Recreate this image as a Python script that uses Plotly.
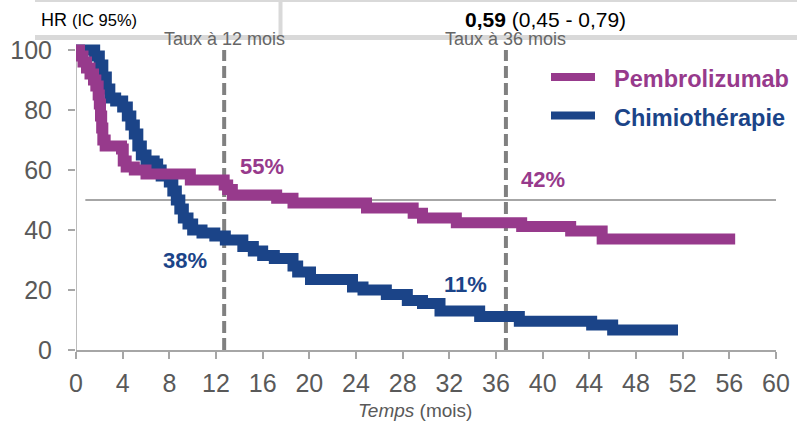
import plotly.graph_objects as go

# Kaplan-Meier step curves (months, % surviving)
pembro_months = [0, 0.3, 0.6, 0.9, 1.2, 1.5, 1.7, 1.9, 2.0, 2.1, 2.2, 2.3, 2.5, 3.9, 4.05,
                 4.3, 5.0, 6.0, 9.8, 12.7, 13.0, 13.4, 17.2, 18.6, 24.9, 28.9, 29.7, 32.6,
                 38.2, 42.4, 45.1, 56.5]
pembro_surv = [100, 98, 96, 94, 92, 90, 88, 85, 82, 78, 74, 70, 68, 67, 63,
               61, 60, 58.7, 56.7, 55, 53.5, 51.7, 50.6, 49.0, 47.3, 45.6, 44.0, 42.4,
               41.2, 39.7, 37.0, 37.0]

chemo_months = [0, 1.6, 2.0, 2.3, 2.6, 2.9, 3.4, 4.0, 4.4, 4.7, 5.0, 5.3, 5.6, 6.0, 6.7,
                7.0, 7.3, 8.0, 8.3, 8.6, 8.9, 9.2, 9.6, 10.0, 10.8, 11.9, 12.8, 14.3,
                15.2, 16.0, 17.0, 18.6, 19.0, 20.1, 23.7, 24.6, 26.6, 28.4, 29.7, 31.2,
                34.6, 38.0, 44.2, 46.0, 51.6]
chemo_surv = [100, 98, 95, 91, 87, 84, 83, 81, 78, 75, 72, 68, 65, 63, 62,
              60, 58, 56, 53, 50, 47, 44, 42, 40, 39, 38, 36.7, 34.5,
              33, 31.5, 30.5, 28, 26, 23.5, 21, 20, 18.5, 16.5, 15.5, 13,
              11.2, 9.6, 8.3, 6.7, 6.7]

series_names = ["Pembrolizumab", "Chimiothérapie"]
series_colors = ["#973A8C", "#1B4488"]

month_ticks = list(range(0, 61, 4))
surv_ticks = [0, 20, 40, 60, 80, 100]

landmark_months = [12.7, 36.85]
landmark_titles = ["Taux à 12 mois", "Taux à 36 mois"]

# landmark rate labels: text, month, height, series index
rate_text = ["55%", "38%", "42%", "11%"]
rate_x = [15.9, 9.3, 40.0, 33.4]
rate_y = [61.3, 29.7, 56.7, 22.0]
rate_series = [0, 1, 0, 1]

median_line = 50

FONT = "Liberation Sans, Arial, sans-serif"
GRAY_TXT = "#595959"
AXIS_GRAY = "#a6a6a6"
HEADER_GRAY = "#d9d9d9"

W, H = 797, 422
ML, MR, MT, MB = 76, 21, 38, 72
PW, PH = W - ML - MR, H - MT - MB


def pxx(p):
    return (p - ML) / PW


def pxy(p):
    return (H - MB - p) / PH


fig = go.Figure()

fig.add_trace(go.Scatter(x=chemo_months, y=chemo_surv, mode="lines", line_shape="hv",
                         line=dict(color=series_colors[1], width=11), name=series_names[1],
                         showlegend=False, hoverinfo="skip"))
fig.add_trace(go.Scatter(x=pembro_months, y=pembro_surv, mode="lines", line_shape="hv",
                         line=dict(color=series_colors[0], width=11), name=series_names[0],
                         showlegend=False, hoverinfo="skip"))

shapes = []
# left axis line, only up to 100
shapes.append(dict(type="line", xref="x", yref="y", x0=0, x1=0, y0=0, y1=100,
                   line=dict(color=AXIS_GRAY, width=1.5), layer="below"))
# median reference line
shapes.append(dict(type="line", xref="x", yref="y", x0=0.8, x1=60.2, y0=median_line,
                   y1=median_line, line=dict(color=AXIS_GRAY, width=2), layer="below"))
# landmark dashed lines
for m in landmark_months:
    shapes.append(dict(type="line", xref="x", yref="y", x0=m, x1=m, y0=0, y1=100,
                       line=dict(color="#808080", width=4, dash="12px,5px"), layer="below"))
# header table rules
shapes.append(dict(type="line", xref="paper", yref="paper", x0=pxx(35), x1=pxx(800),
                   y0=pxy(1), y1=pxy(1), line=dict(color=HEADER_GRAY, width=2)))
shapes.append(dict(type="line", xref="paper", yref="paper", x0=pxx(280.5), x1=pxx(280.5),
                   y0=pxy(0), y1=pxy(36), line=dict(color=HEADER_GRAY, width=4)))
shapes.append(dict(type="line", xref="paper", yref="paper", x0=pxx(35), x1=pxx(800),
                   y0=pxy(37.5), y1=pxy(37.5), line=dict(color=HEADER_GRAY, width=5)))
# legend swatches
for i, yy in enumerate([77, 115.5]):
    shapes.append(dict(type="line", xref="paper", yref="paper", x0=pxx(551), x1=pxx(595),
                       y0=pxy(yy), y1=pxy(yy), line=dict(color=series_colors[i], width=8)))

annotations = []
for i, yy in enumerate([78.5, 118]):
    annotations.append(dict(xref="paper", yref="paper", x=pxx(612), y=pxy(yy),
                            text=f"<b>{series_names[i]}</b>", showarrow=False,
                            xanchor="left", yanchor="middle",
                            font=dict(family=FONT, size=23.5, color=series_colors[i])))
for t, x, y, s in zip(rate_text, rate_x, rate_y, rate_series):
    annotations.append(dict(xref="x", yref="y", x=x, y=y, text=f"<b>{t}</b>",
                            showarrow=False, xanchor="center", yanchor="middle",
                            font=dict(family=FONT, size=22, color=series_colors[s])))
for m, t in zip(landmark_months, landmark_titles):
    annotations.append(dict(xref="x", yref="paper", x=m, y=pxy(38.5), text=t,
                            showarrow=False, xanchor="center", yanchor="middle",
                            font=dict(family=FONT, size=18, color="#666666")))
annotations.append(dict(xref="paper", yref="paper", x=pxx(39), y=pxy(20),
                        text="HR <span style='font-size:16.5px'>(IC 95%)</span>",
                        showarrow=False, xanchor="left", yanchor="middle",
                        font=dict(family=FONT, size=18, color="#000000")))
annotations.append(dict(xref="paper", yref="paper", x=pxx(545.5), y=pxy(20),
                        text="<b>0,59</b> (0,45 - 0,79)",
                        showarrow=False, xanchor="center", yanchor="middle",
                        font=dict(family=FONT, size=21, color="#000000")))
annotations.append(dict(xref="paper", yref="paper", x=pxx(415), y=pxy(410),
                        text="<i>Temps</i> (mois)", showarrow=False,
                        xanchor="center", yanchor="middle",
                        font=dict(family=FONT, size=19, color=GRAY_TXT)))

fig.update_layout(
    width=W, height=H,
    margin=dict(l=ML, r=MR, t=MT, b=MB, pad=0),
    paper_bgcolor="white", plot_bgcolor="white",
    font=dict(family=FONT, color=GRAY_TXT),
    shapes=shapes, annotations=annotations,
    xaxis=dict(range=[0, 60], tickvals=month_ticks, showgrid=False, zeroline=False,
               automargin=False,
               showline=True, linecolor=AXIS_GRAY, linewidth=1.5,
               ticks="outside", ticklen=7, tickcolor=AXIS_GRAY, tickwidth=1.5,
               tickfont=dict(family=FONT, size=25, color=GRAY_TXT), ticklabelstandoff=3),
    yaxis=dict(range=[0, 104], tickvals=surv_ticks, showgrid=False, zeroline=False,
               automargin=False,
               showline=False, ticks="outside", ticklen=7, tickcolor=AXIS_GRAY,
               tickwidth=1.5, tickfont=dict(family=FONT, size=25, color=GRAY_TXT),
               ticklabelstandoff=11),
)

fig.write_html("out.html")
